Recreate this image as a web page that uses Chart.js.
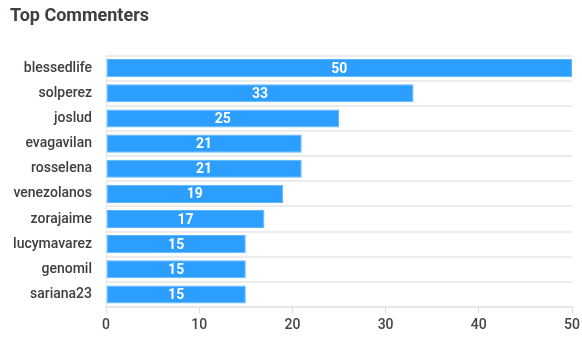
<!DOCTYPE html>
<html>
<head>
<meta charset="utf-8">
<script src="https://cdn.jsdelivr.net/npm/chart.js@4"></script>
<style>
html,body{margin:0;padding:0;background:#fff;}
#wrap{width:582px;height:350px;position:relative;}
</style>
</head>
<body>
<div id="wrap"><canvas id="c" width="582" height="350"></canvas></div>
<script>
const categories = ["blessedlife","solperez","joslud","evagavilan","rosselena","venezolanos","zorajaime","lucymavarez","genomil","sariana23"];
const values = [50,33,25,21,21,19,17,15,15,15];
const xTicks = [0,10,20,30,40,50];

const barLabels = {
  id: 'barLabels',
  afterDatasetsDraw(chart) {
    const ctx = chart.ctx;
    const meta = chart.getDatasetMeta(0);
    ctx.save();
    ctx.fillStyle = '#ffffff';
    ctx.font = 'bold 14px Roboto';
    ctx.textAlign = 'center';
    ctx.textBaseline = 'middle';
    meta.data.forEach((bar, i) => {
      const p = bar.getProps(['x','y','base'], true);
      ctx.fillText(String(values[i]), (p.x + p.base) / 2, p.y + 1);
    });
    ctx.restore();
  }
};

new Chart(document.getElementById('c'), {
  type: 'bar',
  data: {
    labels: categories,
    datasets: [{
      data: values,
      backgroundColor: '#2b9eff',
      borderColor: '#5cb6ff',
      borderWidth: 1,
      borderSkipped: false,
      barPercentage: 0.72,
      categoryPercentage: 1
    }]
  },
  options: {
    indexAxis: 'y',
    responsive: false,
    animation: false,
    devicePixelRatio: 1,
    layout: { padding: { left: 10, right: 10, top: 0, bottom: 0 } },
    plugins: {
      legend: { display: false },
      tooltip: { enabled: false },
      title: {
        display: true,
        text: 'Top Commenters',
        align: 'start',
        color: '#3c4043',
        font: { family: 'Roboto', size: 18, weight: 'bold' },
        padding: { top: 6, bottom: 28 }
      }
    },
    scales: {
      x: {
        min: 0, max: 50,
        afterBuildTicks(axis) { axis.ticks = xTicks.map(v => ({ value: v })); },
        afterFit(axis) { axis.height = 43; axis.paddingRight = 0; axis.paddingLeft = 0; },
        grid: { drawOnChartArea: false, drawTicks: true, tickLength: 6, color: '#dcdcdc', lineWidth: 1 },
        border: { display: true, color: '#e6e6e6', width: 2 },
        ticks: { color: '#444', font: { family: 'Roboto', size: 14, weight: '500' }, padding: 4 }
      },
      y: {
        afterFit(axis) { axis.width = 96; },
        grid: { offset: true, drawTicks: false, color: '#ececec', lineWidth: 2 },
        border: { display: true, color: '#e6e6e6', width: 1 },
        ticks: { color: '#3c4043', font: { family: 'Roboto', size: 14, weight: '500' }, padding: 14 }
      }
    }
  },
  plugins: [barLabels]
});
</script>
</body>
</html>
